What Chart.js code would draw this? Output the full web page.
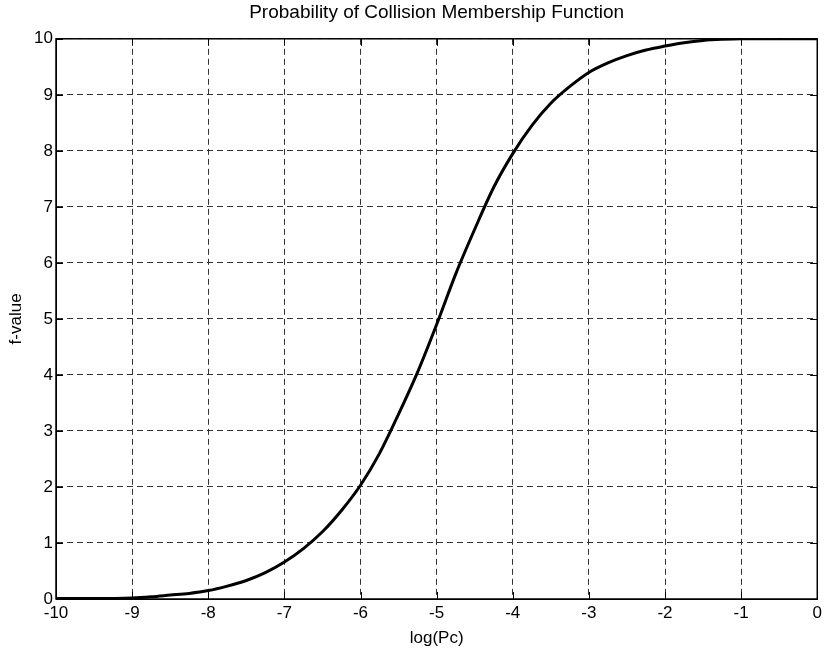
<!DOCTYPE html>
<html>
<head>
<meta charset="utf-8">
<script src="https://cdn.jsdelivr.net/npm/chart.js@4/dist/chart.umd.min.js"></script>
<style>
html,body{margin:0;padding:0;background:#fff;}
#wrap{width:826px;height:649px;position:relative;}
</style>
</head>
<body>
<div id="wrap"><canvas id="c" width="826" height="649"></canvas></div>
<script>
const logPc = [-10,-9.5,-9,-8.75,-8.5,-8.25,-8,-7.75,-7.5,-7.25,-7,-6.75,-6.5,-6.25,-6,-5.75,-5.5,-5.25,-5,-4.75,-4.5,-4.25,-4,-3.75,-3.5,-3.25,-3,-2.75,-2.5,-2.25,-2,-1.75,-1.5,-1.25,-1,-0.5,0];
const fValue = [0.01,0.01,0.02,0.04,0.07,0.1,0.15,0.23,0.33,0.47,0.66,0.9,1.2,1.58,2.03,2.6,3.3,4.05,4.9,5.8,6.6,7.35,7.95,8.45,8.85,9.15,9.4,9.57,9.7,9.8,9.87,9.93,9.97,9.99,10,10,10];
const xTicks = [-10,-9,-8,-7,-6,-5,-4,-3,-2,-1,0];
const yTicks = [0,1,2,3,4,5,6,7,8,9,10];
const titleText = 'Probability of Collision Membership Function';
const xLabel = 'log(Pc)';
const yLabel = 'f-value';

const FONT = '"Liberation Sans", Arial, sans-serif';

const boxPlugin = {
  id: 'box',
  afterLayout(chart) {
    const t = chart.titleBlock, a = chart.chartArea;
    if (t) { t.left = a.left; t.right = a.right; t.width = a.right - a.left; }
  },
  afterDatasetsDraw(chart) {
    const a = chart.chartArea, ctx = chart.ctx;
    const xs = chart.scales.x, ys = chart.scales.y;
    ctx.save();
    ctx.strokeStyle = '#000';
    ctx.setLineDash([]);
    ctx.lineWidth = 1;
    ctx.beginPath();
    const L = 7;
    xTicks.forEach(v => {
      const px = Math.round(xs.getPixelForValue(v)) + 0.5;
      ctx.moveTo(px, a.bottom); ctx.lineTo(px, a.bottom - L);
      ctx.moveTo(px, a.top); ctx.lineTo(px, a.top + L);
    });
    yTicks.forEach(v => {
      const py = Math.round(ys.getPixelForValue(v)) + 0.5;
      ctx.moveTo(a.left, py); ctx.lineTo(a.left + L, py);
      ctx.moveTo(a.right, py); ctx.lineTo(a.right - L, py);
    });
    ctx.stroke();
    ctx.lineWidth = 1.5;
    ctx.strokeRect(a.left, a.top, a.right - a.left, a.bottom - a.top);
    ctx.restore();
  }
};

new Chart(document.getElementById('c'), {
  type: 'line',
  data: {
    datasets: [{
      data: logPc.map((x, i) => ({x: x, y: fValue[i]})),
      borderColor: '#000',
      borderWidth: 3,
      pointRadius: 0,
      cubicInterpolationMode: 'monotone',
      fill: false
    }]
  },
  options: {
    responsive: false,
    animation: false,
    layout: {padding: {left: 0, right: 6, top: 0, bottom: 0}},
    plugins: {
      legend: {display: false},
      tooltip: {enabled: false},
      title: {
        display: true,
        text: titleText,
        color: '#000',
        font: {family: FONT, size: 19, weight: 'normal', lineHeight: 1.2},
        padding: {top: 1, bottom: 15}
      }
    },
    scales: {
      x: {
        type: 'linear',
        min: -10, max: 0,
        afterFit(s) { s.height = 50; },
        afterBuildTicks(s) { s.ticks = xTicks.map(v => ({value: v})); },
        ticks: {color: '#000', padding: 4, font: {family: FONT, size: 17}, maxRotation: 0, autoSkip: false},
        grid: {color: '#333', lineWidth: 1, tickLength: 0, drawTicks: false},
        border: {display: true, color: '#000', width: 1, dash: [6, 4]},
        title: {display: true, text: xLabel, color: '#000', font: {family: FONT, size: 17}, padding: {top: 0, bottom: 0}}
      },
      y: {
        min: 0, max: 10,
        afterFit(s) { s.width = 56; },
        afterBuildTicks(s) { s.ticks = yTicks.map(v => ({value: v})); },
        ticks: {color: '#000', padding: 3, font: {family: FONT, size: 17}, autoSkip: false},
        grid: {color: '#333', lineWidth: 1, tickLength: 0, drawTicks: false},
        border: {display: true, color: '#000', width: 1, dash: [6, 4]},
        title: {display: true, text: yLabel, color: '#000', font: {family: FONT, size: 17}, padding: {top: 6, bottom: 0}}
      }
    }
  },
  plugins: [boxPlugin]
});
</script>
</body>
</html>
